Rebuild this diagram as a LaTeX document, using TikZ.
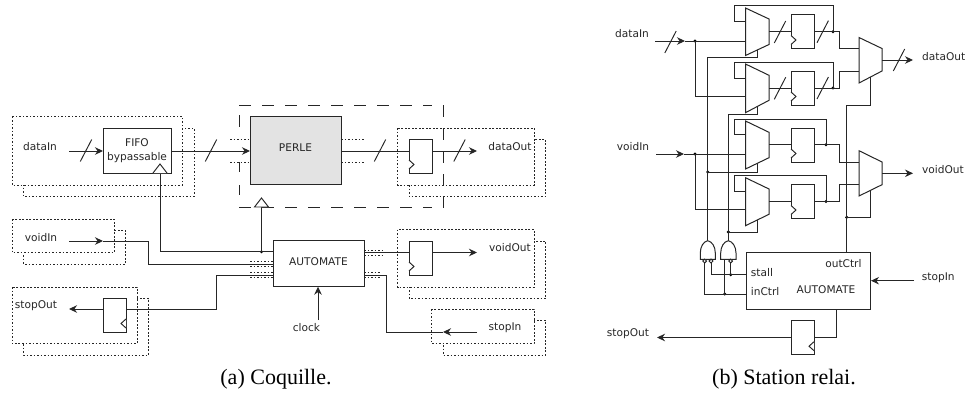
\documentclass[tikz,border=0pt]{standalone}
\usepackage{fontspec}
\setmainfont{DejaVu Sans}
\newfontfamily\capfont{Liberation Serif}
\usetikzlibrary{arrows.meta,calc}
\tikzset{
  wire/.style={line width=0.95pt,black!85},
  arr/.style={wire,-{Stealth[length=8pt,width=7.5pt]}},
  shell/.style={line width=0.9pt,black!85,dash pattern=on 1.6pt off 1.9pt},
  shellfront/.style={shell,fill=white},
  hint/.style={line width=0.8pt,black!85,dash pattern=on 1.6pt off 1.9pt},
  frame/.style={line width=1pt,black!85,dash pattern=on 11.5pt off 11.5pt},
  blockbox/.style={draw=black!85,line width=1pt,fill=white,inner sep=0pt,align=center},
  label/.style={inner sep=0pt,font=\fontsize{10.6}{12}\selectfont,text=black!85},
  capt/.style={inner sep=0pt,font=\capfont\fontsize{22}{24}\selectfont},
  jdot/.style={circle,fill=black,inner sep=0pt,minimum size=3.4pt},
  bubble/.style={circle,draw=black!85,line width=0.9pt,fill=white,inner sep=0pt,minimum size=3.8pt},
  tickmark/.style={line width=0.95pt,black!85},
  clk/.style={line width=0.95pt,black!85,fill=white,line join=miter},
  muxs/.style={line width=1pt,black!85,fill=white,line join=miter},
}
% dotted double shell: x1,y1,x2,y2 of the front rectangle
\newcommand\shellpair[4]{%
  \draw[shell] (#1+11.5,#2+11.5) rectangle (#3+11.5,#4+11.5);
  \draw[shellfront] (#1,#2) rectangle (#3,#4);}
% register: name, left x, top y, wire y
\newcommand\regl[4]{%
  \node[blockbox,minimum width=23pt,minimum height=34pt] (#1) at (#2+11.5,#3+17) {};
  \coordinate (#1i) at (#2,#4);
  \coordinate (#1o) at (#2+23,#4);
  \draw[clk] (#2,#3+21) -- (#2+5,#3+25.5) -- (#2,#3+30);}
\newcommand\regr[4]{%
  \node[blockbox,minimum width=23pt,minimum height=34pt] (#1) at (#2+11.5,#3+17) {};
  \coordinate (#1i) at (#2,#4);
  \coordinate (#1o) at (#2+23,#4);
  \draw[clk] (#2+23,#3+21) -- (#2+18,#3+25.5) -- (#2+23,#3+30);}
% tick across a bus
\newcommand\bustick[2]{\draw[tickmark] (#1-5.7,#2+11) -- (#1+5.7,#2-11);}
% mux: name, left x, top y, right x, bottom y, right top y, right bottom y
\newcommand\muxpoly[7]{%
  \draw[muxs] (#2,#3) coordinate (#1a) -- (#4,#6) coordinate (#1b) -- (#4,#7) coordinate (#1c) -- (#2,#5) coordinate (#1d) -- cycle;}
\begin{document}
\begin{tikzpicture}[x=1pt,y=-1pt]
\useasboundingbox (0,0) rectangle (965,394);

%%%%% (a) shells
\shellpair{12}{116.7}{182.5}{185}
\shellpair{12}{219}{114}{252.5}
\shellpair{12}{287}{137}{343.5}
\shellpair{397.5}{128}{534}{185}
\shellpair{397.5}{229.5}{534}{287}
\shellpair{431.5}{309}{534}{343.5}

%%%%% (a) frame around PERLE
\draw[frame] (239,105) -- (432,105);
\draw[frame] (239,207) -- (432,207);
\draw[frame] (443,105) -- (443,208);
\draw[frame,dash pattern=on 12pt off 35pt on 10pt off 13pt on 10pt off 12pt] (239,115) -- (239,196);

%%%%% (a) hints
\draw[hint] (230,139) -- (250,139);
\draw[hint] (230,162) -- (250,162);
\draw[hint] (341,139) -- (365,139);
\draw[hint] (341,162) -- (365,162);
\draw[hint] (250,261.7) -- (273,261.7);
\draw[hint] (250,266.7) -- (273,266.7);
\draw[hint] (250,272.5) -- (273,272.5);
\draw[hint] (250,277.5) -- (273,277.5);
\draw[hint] (364,250.5) -- (384,250.5);
\draw[hint] (364,255) -- (384,255);
\draw[hint] (364,272.5) -- (380,272.5);
\draw[hint] (364,277.5) -- (380,277.5);

%%%%% (a) blocks
\node[blockbox,minimum width=68pt,minimum height=45pt,font=\fontsize{10.6}{14}\selectfont,text=black!85] (fifo) at (137,150.5) {FIFO\\bypassable};
\node[blockbox,fill=black!11,minimum width=91pt,minimum height=68.5pt,font=\fontsize{10.6}{12}\selectfont,text=black!85] (perle) at (295.5,150.7) {\raisebox{7pt}{PERLE}};
\node[blockbox,minimum width=91pt,minimum height=45.7pt,font=\fontsize{10.6}{12}\selectfont,text=black!85] (autom) at (318.5,263.8) {\raisebox{4.5pt}{AUTOMATE}};
\regl{ra}{409}{139}{151}
\regl{rb}{409}{241}{252.5}
\regr{rc}{103}{298}{309}

%%%%% (a) labels
\node[label] (lda) at (40,147) {dataIn};
\node[label] (lvi) at (41,238) {voidIn};
\node[label] (lso) at (36,306) {stopOut};
\node[label] (ldo) at (510,147) {dataOut};
\node[label] (lvo) at (510,248) {voidOut};
\node[label] (lsi) at (505,328) {stopIn};
\node[label] (lck) at (306.5,328) {clock};

%%%%% (a) wires
\coordinate (fifoin) at (103,151);
\coordinate (fifoout) at (171,151);
\coordinate (perlein) at (250,151);
\coordinate (perleout) at (341,151);
\coordinate (dis) at (69,151);
\coordinate (dot) at (477,151);
\draw[arr] (dis) -- (fifoin);
\bustick{86}{150.5}
\draw[arr] (fifoout) -- (perlein);
\bustick{211}{150.5}
\draw[wire] (perleout) -- (rai);
\bustick{380}{150.5}
\draw[arr] (rao) -- (dot);
\bustick{459.5}{150.5}

\coordinate (vis) at (69,241);
\coordinate (vit) at (103,241);
\coordinate (vib) at (148,241);
\coordinate (auin1) at (273,264);
\draw[arr] (vis) -- (vit);
\draw[wire] (vit) -- (vib) |- (auin1);

\coordinate (auin2) at (273,275);
\coordinate (rcb) at (216.5,309);
\draw[wire] (auin2) -- (216.5,275) -- (rcb) -- (rco);
\coordinate (sot) at (69,309);
\draw[arr] (rci) -- (sot);

\coordinate (auclk) at (273,251.7);
\node[jdot] (ja) at (261.5,251.7) {};
\coordinate (fifoclk) at (160,173);
\coordinate (frameclk) at (261.5,207);
\draw[wire] (fifoclk) |- (auclk);
\draw[wire] (ja.center) -- (frameclk);
\draw[clk] (153,173) -- (160,164) -- (167,173);
\draw[clk] (254.5,207) -- (261.5,198) -- (268.5,207) -- cycle;

\coordinate (auout1) at (364,252.5);
\draw[wire] (auout1) -- (rbi);
\coordinate (vot) at (477,252.5);
\draw[arr] (rbo) -- (vot);

\coordinate (auout2) at (364,275);
\coordinate (sis) at (477,332);
\coordinate (sit) at (443,332);
\coordinate (sie) at (386,332);
\draw[arr] (sis) -- (sit);
\draw[wire] (sit) -- (sie) |- (auout2);

\coordinate (cks) at (318,320);
\coordinate (ckt) at (318,286.7);
\draw[arr] (cks) -- (ckt);

\node[capt] (capa) at (276,379) {(a) Coquille.};

%%%%% (b) named points
\coordinate (bdis) at (655,41);
\coordinate (bdit) at (685,41);
\node[jdot] (j1) at (695,41) {};
\node[jdot] (j2) at (695,154) {};
\coordinate (bvis) at (656,154);
\coordinate (bvit) at (684,154);

%%%%% (b) feedback wires (behind muxes)
\coordinate (m1fb) at (745.5,21);
\coordinate (m2fb) at (745.5,78);
\coordinate (m3fb) at (745.5,134.7);
\coordinate (m4fb) at (745.5,191);
\node[jdot] (o1) at (833,31.7) {};
\node[jdot] (o2) at (833,88) {};
\node[jdot] (o3) at (826,144.7) {};
\node[jdot] (o4) at (826,201.5) {};
\draw[wire] (m1fb) -- (734,21) -- (734,5.5) -- (833,5.5) -- (o1.center);
\draw[wire] (m2fb) -- (734,78) -- (734,62) -- (833,62) -- (o2.center);
\draw[wire] (m3fb) -- (734,134.7) -- (734,119.3) -- (826,119.3) -- (o3.center);
\draw[wire] (m4fb) -- (734,191) -- (734,175.7) -- (826,175.7) -- (o4.center);

%%%%% (b) selects of the input muxes
\coordinate (g1o) at (707.7,240.7);
\coordinate (g2o) at (728.3,240.7);
\node[jdot] (s3) at (707.7,172) {};
\node[jdot] (s4) at (728.3,232) {};
\draw[wire] (g1o) -- (707.7,57.5) -- (757,57.5) -- (757,50);
\draw[wire] (g2o) -- (728.3,114) -- (757,114) -- (757,107);
\draw[wire] (s3.center) -- (757,172) -- (757,163);
\draw[wire] (s4.center) -- (757,232) -- (757,220);

%%%%% (b) data inputs
\coordinate (m1in) at (745.5,41);
\coordinate (m2in) at (745.5,96);
\coordinate (m3in) at (745.5,154);
\coordinate (m4in) at (745.5,209.3);
\draw[arr] (bdis) -- (bdit);
\bustick{670.5}{42}
\draw[wire] (bdit) -- (m1in);
\draw[wire] (j1.center) |- (m2in);
\draw[arr] (bvis) -- (bvit);
\draw[wire] (bvit) -- (m3in);
\draw[wire] (j2.center) |- (m4in);

%%%%% (b) muxes
\muxpoly{ma}{745.5}{8}{769}{55.5}{19}{44.5}
\muxpoly{mb}{745.5}{64}{769}{112.7}{75.3}{100.3}
\muxpoly{mc}{745.5}{121}{769}{169}{132.3}{157.7}
\muxpoly{md}{745.5}{177.7}{769}{225.7}{189}{214.3}
\muxpoly{me}{859}{37.5}{882}{83}{48.5}{71}
\muxpoly{mf}{859}{150.7}{882}{196}{162}{184.7}

%%%%% (b) registers
\regl{r1}{791}{14.5}{31.7}
\regl{r2}{791}{71}{88}
\regl{r3}{791}{128}{144.7}
\regl{r4}{791}{184.5}{201.5}
\draw[wire] (769,31.7) -- (r1i);
\bustick{780}{32}
\draw[wire] (769,88) -- (r2i);
\bustick{780}{88.3}
\draw[wire] (769,144.7) -- (r3i);
\draw[wire] (769,201.5) -- (r4i);
\coordinate (e1) at (859,48.5);
\coordinate (e2) at (859,71);
\coordinate (f1) at (859,162);
\coordinate (f2) at (859,184.7);
\draw[wire] (r1o) -- (839,31.7) -- (839,48.5) -- (e1);
\bustick{822.7}{31.7}
\draw[wire] (r2o) -- (839,88) -- (839,71) -- (e2);
\bustick{822.7}{88}
\draw[wire] (r3o) -- (839,144.7) -- (839,162) -- (f1);
\draw[wire] (r4o) -- (839,201.5) -- (839,184.7) -- (f2);

%%%%% (b) automate
\node[blockbox,minimum width=124.7pt,minimum height=56.3pt] (bauto) at (808.35,280.85) {};
\node[label] (lstall) at (750.7,272.3) [anchor=west] {stall};
\node[label] (linc) at (750.7,292) [anchor=west] {inCtrl};
\node[label] (louc) at (861.7,264) [anchor=east] {outCtrl};
\node[label] (lauto) at (826,290) {AUTOMATE};

%%%%% (b) output muxes
\coordinate (bdot) at (913,60);
\draw[arr] (882,60) -- (bdot);
\bustick{899}{60}
\coordinate (bvot) at (913,173.3);
\draw[arr] (882,173.3) -- (bvot);
\node[jdot] (oc) at (846.7,217.3) {};
\draw[wire] (846.7,252.7) -- (846.7,105) -- (870.7,105) -- (870.7,77);
\draw[wire] (oc.center) -- (870.7,217.3) -- (870.7,190);

%%%%% (b) gates
\draw[muxs] (700.3,259.3) -- (700.3,253) .. controls (700.3,246.5) and (703.5,241.5) .. (707.7,240.7) .. controls (712,241.5) and (715.3,246.5) .. (715.3,253) -- (715.3,259.3) -- cycle;
\draw[muxs] (720.7,259.3) -- (720.7,253) .. controls (720.7,246.5) and (724,241.5) .. (728.3,240.7) .. controls (732.5,241.5) and (736,246.5) .. (736,253) -- (736,259.3) -- cycle;
\node[jdot] (js) at (730.7,274.7) {};
\node[jdot] (ji) at (724.7,294) {};
\coordinate (astall) at (746,274.7);
\coordinate (ainc) at (746,294);
\node[bubble] (b1) at (704.7,261) {};
\node[bubble] (b2) at (711,261) {};
\node[bubble] (b3) at (730.7,261) {};
\draw[wire] (astall) -- (711,274.7) -- (b2);
\draw[wire] (js.center) -- (b3);
\draw[wire] (ainc) -- (704.7,294) -- (b1);
\draw[wire] (ji.center) -- (724.7,259.3);

%%%%% (b) stop path
\regr{r5}{791}{320.7}{337.5}
\coordinate (ao) at (836.7,309);
\draw[wire] (ao) |- (r5o);
\coordinate (bsot) at (657,337.5);
\draw[arr] (r5i) -- (bsot);
\coordinate (bsis) at (914,280.7);
\coordinate (bsit) at (871,280.7);
\draw[arr] (bsis) -- (bsit);

%%%%% (b) labels
\node[label] (bl1) at (632,34) {dataIn};
\node[label] (bl2) at (633,147) {voidIn};
\node[label] (bl3) at (628,334) {stopOut};
\node[label,anchor=west] (bl4) at (922,57) {dataOut};
\node[label,anchor=west] (bl5) at (922,170) {voidOut};
\node[label,anchor=west] (bl6) at (921.7,278) {stopIn};
\node[capt] (capb) at (784,379) {(b) Station relai.};
\end{tikzpicture}
\end{document}
